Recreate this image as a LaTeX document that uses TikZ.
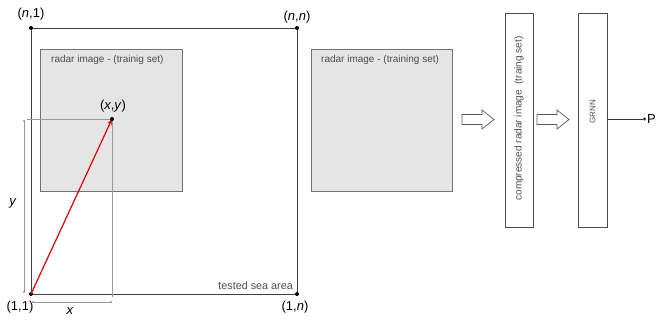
\documentclass[tikz,border=0pt]{standalone}
\usepackage{fontspec}
\setmainfont{Liberation Sans}
\usetikzlibrary{arrows.meta}
\tikzset{
    area/.style = {draw=black!75, line width=0.9pt},
    radarbox/.style = {draw=black!55, fill=black!10, line width=0.8pt},
    flowbox/.style = {draw=black!70, line width=0.7pt},
    dimline/.style = {draw=black!40, line width=0.5pt},
    corner/.style = {font=\fontsize{13}{13}\selectfont},
    boxlabel/.style = {font=\fontsize{10}{10}\selectfont, text=black!70},
    blockarrow/.style = {draw=black!65, fill=white, line width=0.7pt, line join=miter},
}
\begin{document}
\begin{tikzpicture}[x=1pt, y=-1pt]
    \useasboundingbox (0,0) rectangle (657,320);
    % tested sea area
    \coordinate (c11) at (31,294);
    \coordinate (cn1) at (31,28);
    \coordinate (cnn) at (297,28);
    \coordinate (c1n) at (297,294);
    \draw[area] (c11) -- (cn1) -- (cnn) -- (c1n) -- cycle;
    \foreach \c in {c11,cn1,cnn,c1n}
        \fill[black] (\c) circle (2pt);
    \node[corner] (ln1) at (31,14) {(\textit{n},1)};
    \node[corner] (lnn) at (297,17) {(\textit{n},\textit{n})};
    \node[corner] (l11) at (20,307) {(1,1)};
    \node[corner] (l1n) at (295,307) {(1,\textit{n})};
    \node[boxlabel, font=\fontsize{10.8}{10.8}\selectfont, anchor=south east, inner sep=1pt] (sea) at (294,291) {tested sea area};
    % radar images
    \draw[radarbox] (40,49) rectangle (182,191);
    \node[boxlabel, anchor=north west, inner sep=1pt] (img1) at (50,54) {radar image - (trainig set)};
    \draw[radarbox] (311,49) rectangle (452,191);
    \node[boxlabel, anchor=north west, inner sep=1pt] (img2) at (320,54) {radar image - (training set)};
    % point and its coordinates
    \coordinate (pt) at (112,119);
    \draw[dimline] (27,119) -- (pt);
    \draw[dimline] (pt) -- (112,297);
    \draw[dimline] (24,121) -- (24,292);
    \fill[black!60] (24,121) circle (0.9pt) (24,292) circle (0.9pt);
    \draw[dimline] (33,302) -- (111,302);
    \fill[black!60] (33,302) circle (0.9pt) (111,302) circle (0.9pt);
    \draw[red!90!black, line width=1.2pt, -{Stealth[length=6pt, width=4.5pt]}] (c11) -- (pt);
    \fill[black] (pt) circle (2pt);
    \node[corner] (lxy) at (113,106) {(\textit{x},\textit{y})};
    \node[corner] (lx) at (70,311) {\textit{x}};
    \node[corner] (ly) at (13,203) {\textit{y}};
    % compression and network
    \node[flowbox, minimum width=28pt, minimum height=214pt, inner sep=0] (comp) at (519,120) {};
    \node[boxlabel, rotate=90] at (519,118.5) {compressed radar image\ \ (traing set)};
    \node[flowbox, minimum width=29pt, minimum height=214pt, inner sep=0] (grnn) at (592.5,120) {};
    \node[boxlabel, rotate=90, font=\fontsize{8}{8}\selectfont] at (592.5,112) {GRNN};
    \foreach \ax in {462,537}
        \draw[blockarrow] (\ax,114.5) -- ++(20,0) -- ++(0,-4.5) -- ++(12,9.5)
            -- ++(-12,9.5) -- ++(0,-4.5) -- ++(-20,0) -- cycle;
    \node[corner, anchor=west, inner sep=1pt] (out) at (646,119) {P};
    \draw[black!80, line width=0.6pt, -{Circle[length=3pt]}] (grnn.east |- out.west) -- (out.west);
\end{tikzpicture}
\end{document}
